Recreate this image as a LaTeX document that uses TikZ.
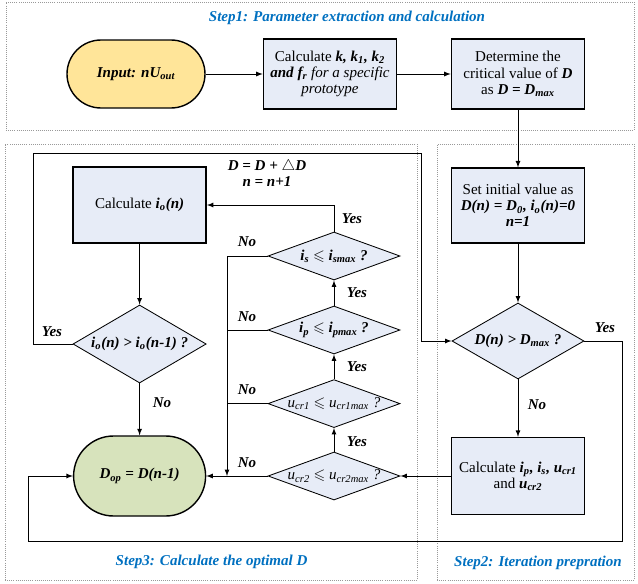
\documentclass[tikz,border=0pt]{standalone}
\usepackage{amssymb}
\usepackage{fontspec}
\setmainfont{Liberation Serif}
\usetikzlibrary{shapes.geometric}
\definecolor{boxblue}{RGB}{231,236,247}
\definecolor{inyellow}{RGB}{255,229,153}
\definecolor{outgreen}{RGB}{215,227,188}
\definecolor{stepblue}{RGB}{0,112,192}
\newcommand{\bi}[1]{\textbf{\textit{#1}}}

\begin{document}
\begin{tikzpicture}[
    >=latex,
    line width=0.6pt,
    every node/.style={font=\fontsize{10.7}{11.4}\selectfont},
    stepframe/.style={draw=gray!80, densely dotted, line width=0.5pt},
    steptitle/.style={font=\fontsize{10.7}{11.4}\selectfont\bfseries\itshape, text=stepblue},
    process/.style={draw, fill=boxblue, line width=1pt, align=center, minimum width=3.33cm, minimum height=1.75cm},
    terminal/.style={draw, line width=1pt, align=center, minimum width=3.45cm, minimum height=1.7cm, rounded corners=0.85cm},
    decision/.style={draw, diamond, fill=boxblue, inner sep=0pt, align=center},
    smalldecision/.style={decision, minimum width=3.3cm, minimum height=1.2cm, shape aspect=2.9},
    answer/.style={font=\fontsize{10.7}{11.4}\selectfont\bfseries\itshape}
]
\useasboundingbox (0,0) rectangle (15.95,-14.6);
% Steps
\node[stepframe, minimum width=15.7cm, minimum height=3.2cm] (step1) at (8,-1.65) {};
\node[stepframe, minimum width=10.3cm, minimum height=10.9cm] (step3) at (5.275,-9.05) {};
\node[stepframe, minimum width=4.925cm, minimum height=10.9cm] (step2) at (13.3875,-9.05) {};
\node[steptitle] (title1) at (8.675,-0.45) {Step1: Parameter extraction and calculation};
\node[steptitle] (title3) at (5.29,-14.05) {Step3: Calculate the optimal D};
\node[steptitle] (title2) at (13.45,-14.075) {Step2: Iteration prepration};
% Step 1
\node[terminal, fill=inyellow] (input) at (3.4,-1.85) {\bi{Input: nU\textsubscript{out}}};
\node[process] (calck) at (8.25,-1.85) {Calculate \bi{k, k\textsubscript{1}, k\textsubscript{2}}\\ \bi{and f\textsubscript{r}} \textit{for a specific}\\ \textit{prototype}};
\node[process] (critical) at (12.95,-1.85) {Determine the\\ critical value of \bi{D}\\ as \bi{D = D\textsubscript{max}}};
% Step 2
\node[process, minimum height=1.875cm] (initial) at (12.95,-5.14) {Set initial value as\\ \bi{D(n) = D\textsubscript{0}, i\textsubscript{o}(n)=0}\\ \bi{n=1}};
\node[decision, minimum width=3.3cm, minimum height=1.9cm, shape aspect=2] (dmax) at (12.95,-8.525) {\bi{D(n) > D\textsubscript{max} ?}};
\node[process, minimum height=1.925cm] (calcip) at (12.95,-11.9) {Calculate \bi{i\textsubscript{p}, i\textsubscript{s}, u\textsubscript{cr1}}\\ and \bi{u\textsubscript{cr2}}};
% Step 3
\node[process, minimum height=1.9cm] (calcio) at (3.49,-5.125) {Calculate \bi{i\textsubscript{o}(n)}};
\node[decision, minimum width=3.33cm, minimum height=1.95cm, shape aspect=2] (iocheck) at (3.49,-8.6) {\bi{i\textsubscript{o}(n) > i\textsubscript{o}(n-1) ?}};
\node[terminal, fill=outgreen, minimum width=3.3cm, minimum height=2cm, rounded corners=1cm] (dop) at (3.49,-11.9) {\bi{D\textsubscript{op} = D(n-1)}};
\node[smalldecision] (ischeck) at (8.35,-6.4) {\bi{i\textsubscript{s}} $\leqslant$ \bi{i\textsubscript{smax} ?}};
\node[smalldecision] (ipcheck) at (8.35,-8.25) {\bi{i\textsubscript{p}} $\leqslant$ \bi{i\textsubscript{pmax} ?}};
\node[smalldecision] (ucr1check) at (8.35,-10.09) {\textit{u\textsubscript{cr1}} $\leqslant$ \textit{u\textsubscript{cr1max} ?}};
\node[smalldecision] (ucr2check) at (8.35,-11.9) {\textit{u\textsubscript{cr2}} $\leqslant$ \textit{u\textsubscript{cr2max} ?}};
\node[answer, align=center] (update) at (6.675,-4.325) {D = D + $\triangle$D\\ n = n+1};
% Corners
\coordinate (nobus) at (5.675,-6.4);
\coordinate (nobusend) at (5.675,-11.9);
\coordinate (yesleft) at (0.825,-3.825);
\coordinate (yesright) at (10.525,-3.825);
\coordinate (backright) at (15.55,-13.525);
\coordinate (backleft) at (0.7,-13.525);
% Arrows
\draw[->] (input) -- (calck);
\draw[->] (calck) -- (critical);
\draw[->] (critical) -- (initial);
\draw[->] (initial) -- (dmax);
\draw[->] (dmax) -- (calcip);
\draw[->] (calcip) -- (ucr2check);
\draw[->] (ucr2check) -- (ucr1check);
\draw[->] (ucr1check) -- (ipcheck);
\draw[->] (ipcheck) -- (ischeck);
\draw[->] (ischeck) |- (calcio);
\draw[->] (calcio) -- (iocheck);
\draw[->] (iocheck) -- (dop);
\draw[->] (ucr2check) -- (dop);
\draw (ischeck) -- (nobus);
\draw (ipcheck) -- (ipcheck -| nobus);
\draw (ucr1check) -- (ucr1check -| nobus);
\draw[->] (nobus) -- (nobusend);
\draw[->] (iocheck.west) -| (yesleft) -- (yesright) |- (dmax.west);
\draw[->] (dmax.east) -| (backright) -- (backleft) |- (dop.west);
% Labels
\node[answer] (yes1) at (8.8,-5.475) {Yes};
\node[answer] (yes2) at (8.925,-7.325) {Yes};
\node[answer] (yes3) at (8.925,-9.175) {Yes};
\node[answer] (yes4) at (8.925,-11.05) {Yes};
\node[answer] (yes5) at (1.3,-8.3) {Yes};
\node[answer] (yes6) at (15.125,-8.2) {Yes};
\node[answer] (no1) at (6.175,-6.05) {No};
\node[answer] (no2) at (6.175,-7.925) {No};
\node[answer] (no3) at (6.175,-9.75) {No};
\node[answer] (no4) at (6.175,-11.575) {No};
\node[answer] (no5) at (4.05,-10.075) {No};
\node[answer] (no6) at (13.425,-10.125) {No};
\end{tikzpicture}
\end{document}
